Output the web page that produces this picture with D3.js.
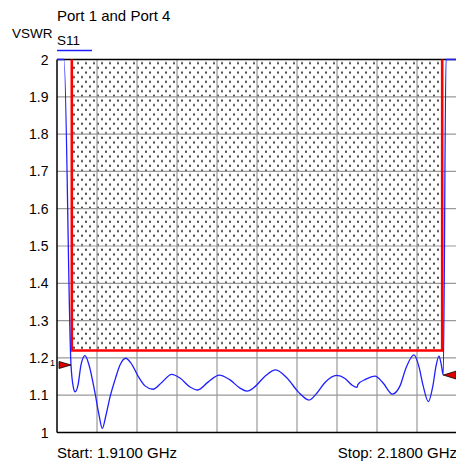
<!DOCTYPE html>
<html>
<head>
<meta charset="utf-8">
<script src="https://cdn.jsdelivr.net/npm/d3@7"></script>
<style>
  body { margin: 0; background: #fff; }
  text { font-family: "Liberation Sans", Arial, sans-serif; }
</style>
</head>
<body>
<script>
// frequency in GHz
var freqs = [1.9100, 1.91338, 1.91473, 1.91945, 1.92013, 1.92114, 1.92215, 1.92418, 1.92620, 1.92890,
  1.93160, 1.93565, 1.93835, 1.94058, 1.94308, 1.94578, 1.94915, 1.95253, 1.95637, 1.95995,
  1.96488, 1.96940, 1.97480, 1.98088, 1.98742, 1.99303, 1.99978, 2.00497, 2.01193, 2.01955,
  2.02678, 2.03353, 2.03825, 2.04365, 2.05040, 2.05762, 2.06525, 2.07288, 2.08010, 2.08550,
  2.09090, 2.09880, 2.10440, 2.10913, 2.11250, 2.11318, 2.11858, 2.12465, 2.13025, 2.13633,
  2.14153, 2.14558, 2.15098, 2.15435, 2.15705, 2.16063, 2.16380, 2.16583, 2.16785, 2.16920,
  2.17075, 2.17258, 2.1800];
var vswr = [3.0, 2.5, 2.0, 1.181, 1.146, 1.119, 1.109, 1.127, 1.181, 1.206,
  1.181, 1.106, 1.047, 1.011, 1.047, 1.095, 1.141, 1.181, 1.199, 1.186,
  1.150, 1.125, 1.116, 1.135, 1.156, 1.146, 1.122, 1.114, 1.135, 1.154,
  1.141, 1.119, 1.111, 1.123, 1.151, 1.168, 1.146, 1.109, 1.087, 1.106,
  1.134, 1.153, 1.145, 1.127, 1.121, 1.129, 1.143, 1.151, 1.132, 1.103,
  1.125, 1.173, 1.208, 1.176, 1.127, 1.083, 1.127, 1.178, 1.205, 1.186,
  1.154, 2.0, 3.0];

// limit mask (VSWR must stay below 1.22 between 1.92 and 2.17 GHz)
var maskFreqs = [1.92, 1.92, 2.17, 2.17];
var maskVals = [2.0, 1.22, 1.22, 2.0];

var markerFreqs = [1.91945, 2.17075];
var markerVals = [1.181, 1.154];

var yTicks = [1, 1.1, 1.2, 1.3, 1.4, 1.5, 1.6, 1.7, 1.8, 1.9, 2];
var yTickLabels = ['1', '1.1', '1.2', '1.3', '1.4', '1.5', '1.6', '1.7', '1.8', '1.9', '2'];

var w = 456, h = 465;

var svg = d3.select('body').append('svg')
  .attr('width', w)
  .attr('height', h);

var x = d3.scaleLinear().domain([1.91, 2.18]).range([57, 457]);
var y = d3.scaleLinear().domain([1, 2]).range([432.5, 59.5]).clamp(true);

// dotted fill pattern
var pat = svg.append('defs').append('pattern')
  .attr('id', 'dots')
  .attr('patternUnits', 'userSpaceOnUse')
  .attr('width', 8)
  .attr('height', 9.33);
pat.append('rect').attr('x', 1).attr('y', 1.5).attr('width', 2).attr('height', 2).attr('fill', '#444');
pat.append('rect').attr('x', 5).attr('y', 6.2).attr('width', 2).attr('height', 2).attr('fill', '#444');

var mask = maskFreqs.map(function(f, i) { return [x(f), y(maskVals[i])]; });

svg.append('path')
  .attr('d', d3.line()(mask) + 'Z')
  .attr('fill', 'url(#dots)');

// grid
var vGrid = d3.range(1, 10).map(function(i) { return 1.91 + i * 0.027; });
svg.append('g').selectAll('line').data(vGrid).enter().append('line')
  .attr('x1', function(d) { return x(d); })
  .attr('x2', function(d) { return x(d); })
  .attr('y1', y(2)).attr('y2', y(1))
  .attr('stroke', '#999').attr('stroke-width', 1.2);
svg.append('g').selectAll('line').data(yTicks.slice(1, -1)).enter().append('line')
  .attr('x1', x(1.91)).attr('x2', x(2.18))
  .attr('y1', function(d) { return y(d); })
  .attr('y2', function(d) { return y(d); })
  .attr('stroke', '#999').attr('stroke-width', 1.2);

// frame
svg.append('line').attr('x1', x(1.91)).attr('x2', x(2.18)).attr('y1', y(2)).attr('y2', y(2))
  .attr('stroke', '#000').attr('stroke-width', 1.5);
svg.append('line').attr('x1', x(1.91)).attr('x2', x(2.18)).attr('y1', y(1)).attr('y2', y(1))
  .attr('stroke', '#000').attr('stroke-width', 1.5);
svg.append('line').attr('x1', x(1.91)).attr('x2', x(1.91)).attr('y1', y(2)).attr('y2', y(1))
  .attr('stroke', '#000').attr('stroke-width', 1.5);

// y tick labels
svg.append('g').selectAll('text').data(yTicks).enter().append('text')
  .attr('x', 48.5)
  .attr('y', function(d) { return y(d); })
  .attr('dy', '0.36em')
  .attr('text-anchor', 'end')
  .attr('font-size', 14)
  .text(function(d, i) { return yTickLabels[i]; });

// red limit line
svg.append('path')
  .attr('d', d3.line()(mask))
  .attr('fill', 'none')
  .attr('stroke', '#ff0000')
  .attr('stroke-width', 2.6);

// trace
var pts = freqs.map(function(f, i) { return [x(f), y(vswr[i])]; });
svg.append('path')
  .attr('d', d3.line().curve(d3.curveMonotoneX)(pts))
  .attr('fill', 'none')
  .attr('stroke', '#1f1fff')
  .attr('stroke-width', 1.3);

// markers
var m1x = x(markerFreqs[0]), m1y = y(markerVals[0]);
svg.append('path')
  .attr('d', 'M' + m1x + ',' + m1y + 'L' + (m1x - 12) + ',' + (m1y - 3.5) + 'L' + (m1x - 12) + ',' + (m1y + 3.5) + 'Z')
  .attr('fill', '#e00000').attr('stroke', '#000').attr('stroke-width', 0.8);
var m2x = x(markerFreqs[1]), m2y = y(markerVals[1]);
svg.append('path')
  .attr('d', 'M' + m2x + ',' + m2y + 'L' + (m2x + 13) + ',' + (m2y - 4) + 'L' + (m2x + 13) + ',' + (m2y + 4) + 'Z')
  .attr('fill', '#e00000').attr('stroke', '#000').attr('stroke-width', 0.8);
svg.append('text')
  .attr('x', 50).attr('y', m1y + 1)
  .attr('font-size', 9)
  .text('1');

// titles
svg.append('text').attr('x', 57).attr('y', 21).attr('font-size', 15).text('Port 1 and Port 4');
svg.append('text').attr('x', 12).attr('y', 38).attr('font-size', 13.5).text('VSWR');
svg.append('text').attr('x', 57).attr('y', 45).attr('font-size', 13.5).text('S11');
svg.append('line').attr('x1', 57).attr('x2', 92).attr('y1', 50.5).attr('y2', 50.5)
  .attr('stroke', '#1f1fff').attr('stroke-width', 1.3);

svg.append('text').attr('x', 57).attr('y', 458).attr('font-size', 15).text('Start: 1.9100 GHz');
svg.append('text').attr('x', 457).attr('y', 458).attr('font-size', 15)
  .attr('text-anchor', 'end').text('Stop: 2.1800 GHz');
</script>
</body>
</html>
